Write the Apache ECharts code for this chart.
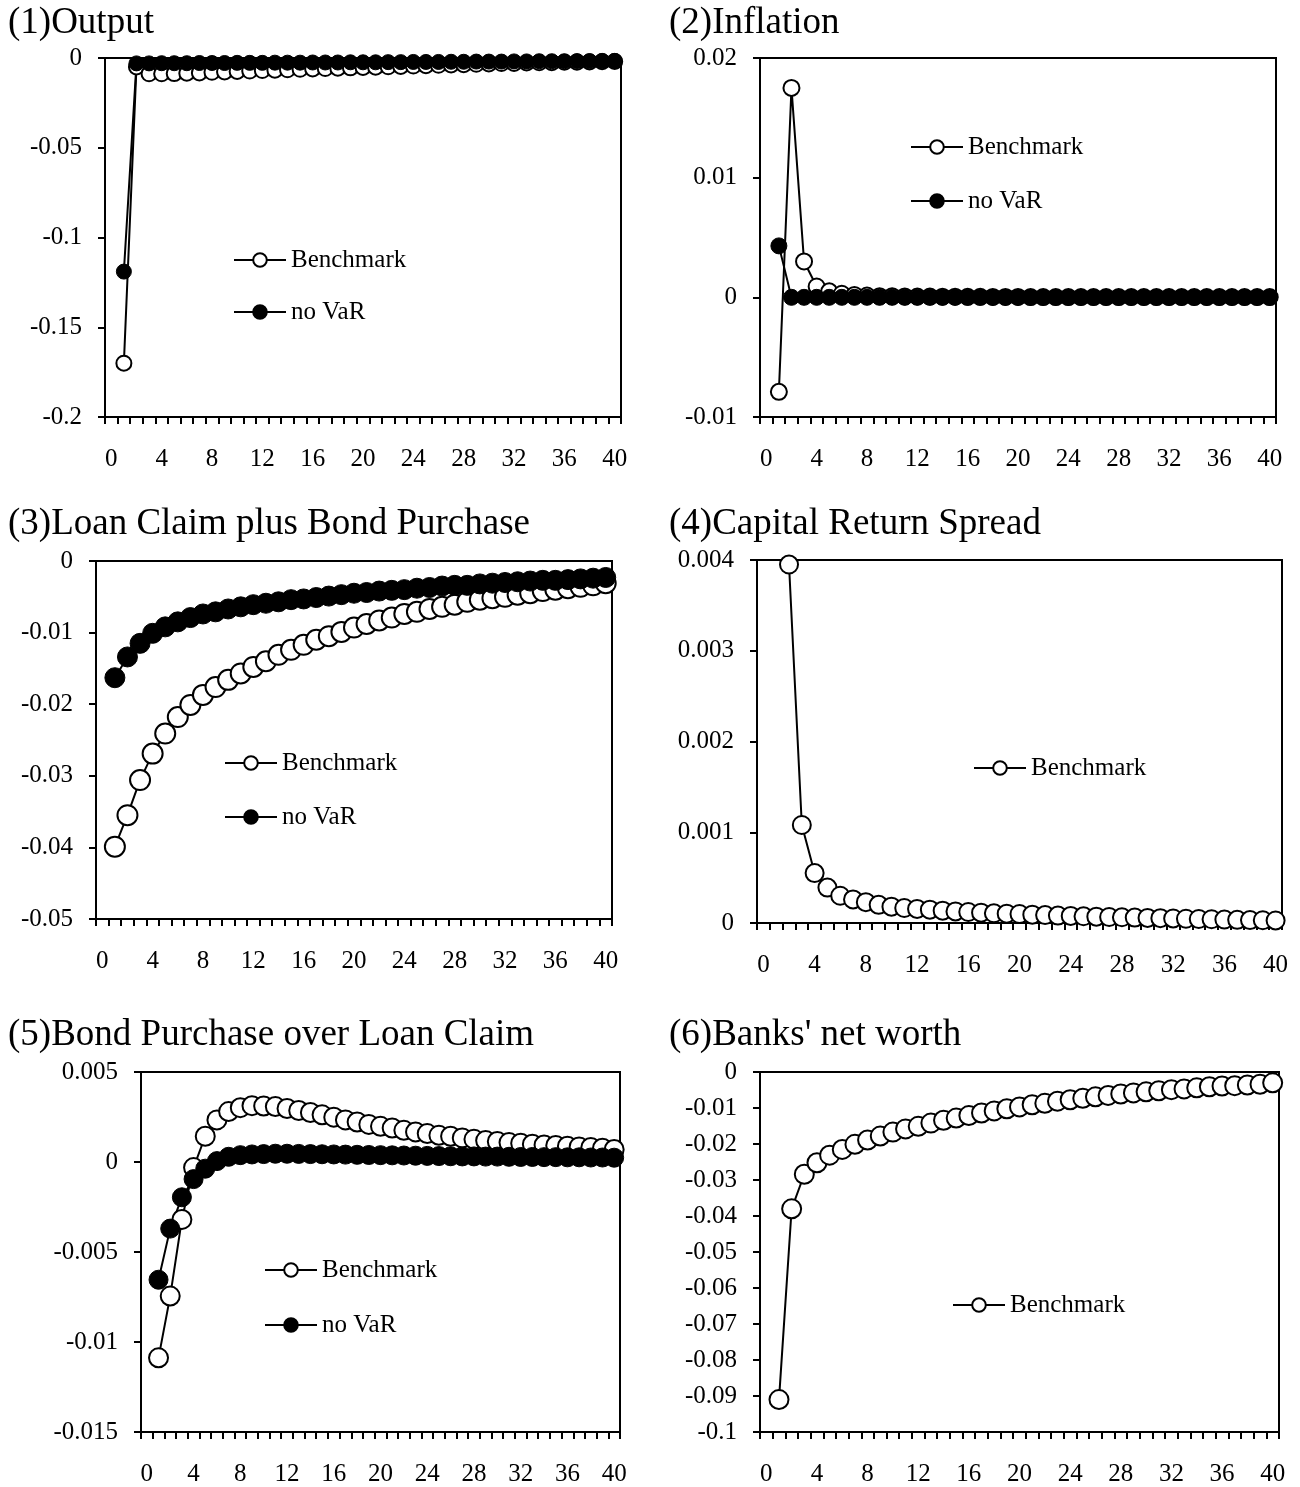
<!DOCTYPE html>
<html>
<head>
<meta charset="utf-8">
<title>Impulse responses</title>
<script src="https://cdn.jsdelivr.net/npm/echarts@6/dist/echarts.min.js"></script>
<style>
  html, body { margin: 0; padding: 0; background: #fff; }
  #chart { width: 1300px; height: 1487px; }
</style>
</head>
<body>
<div id="chart"></div>
<script>
// Horizon (quarters after the shock); category 0 is left empty.
const periods = ['0','1','2','3','4','5','6','7','8','9','10','11','12','13','14','15','16','17','18','19','20',
  '21','22','23','24','25','26','27','28','29','30','31','32','33','34','35','36','37','38','39','40'];

// Responses for periods 1..40
const outputBenchmark = [-0.170, -0.0050, -0.0088, -0.0088, -0.0087, -0.0085, -0.0083, -0.0080, -0.0078, -0.0075,
  -0.0073, -0.0070, -0.0068, -0.0066, -0.0063, -0.0061, -0.0059, -0.0057, -0.0055, -0.0053,
  -0.0051, -0.0049, -0.0047, -0.0045, -0.0043, -0.0041, -0.0039, -0.0037, -0.0035, -0.0033,
  -0.0031, -0.0030, -0.0028, -0.0027, -0.0026, -0.0024, -0.0023, -0.0022, -0.0021, -0.0020];
const outputNoVaR = [-0.119, -0.0030, -0.0030, -0.0029, -0.0029, -0.0029, -0.0028, -0.0028, -0.0028, -0.0027,
  -0.0027, -0.0027, -0.0026, -0.0026, -0.0026, -0.0025, -0.0025, -0.0025, -0.0024, -0.0024,
  -0.0024, -0.0023, -0.0023, -0.0022, -0.0022, -0.0022, -0.0021, -0.0021, -0.0020, -0.0020,
  -0.0020, -0.0019, -0.0019, -0.0018, -0.0018, -0.0018, -0.0017, -0.0017, -0.0016, -0.0016];

const inflationBenchmark = [-0.0079, 0.0175, 0.0030, 0.0009, 0.0005, 0.0003, 0.0002, 0.00015, 0.0001, 0.0001,
  0.00008, 0.00007, 0.00006, 0.00005, 0.00005, 0.00004, 0.00004, 0.00003, 0.00003, 0.00003,
  0.00002, 0.00002, 0.00002, 0.00002, 0.00002, 0.00002, 0.00002, 0.00002, 0.00002, 0.00002,
  0.00002, 0.00002, 0.00002, 0.00002, 0.00002, 0.00002, 0.00002, 0.00002, 0.00002, 0.00002];
const inflationNoVaR = [0.0043, 0.0000, 0.0000, 0.0000, 0.0000, 0.0000, 0.0000, 0.0000, 0.0000, 0.0000,
  0.0000, 0.0000, 0.0000, 0.0000, 0.0000, 0.0000, 0.0000, 0.0000, 0.0000, 0.0000,
  0.0000, 0.0000, 0.0000, 0.0000, 0.0000, 0.0000, 0.0000, 0.0000, 0.0000, 0.0000,
  0.0000, 0.0000, 0.0000, 0.0000, 0.0000, 0.0000, 0.0000, 0.0000, 0.0000, 0.0000];

const loanBenchmark = [-0.0399, -0.0355, -0.0306, -0.0269, -0.0241, -0.0218, -0.0201, -0.0187, -0.0176, -0.0166,
  -0.0157, -0.0148, -0.0140, -0.0131, -0.0124, -0.0117, -0.0110, -0.0105, -0.0099, -0.0093,
  -0.0088, -0.0083, -0.0079, -0.0074, -0.0071, -0.0067, -0.0064, -0.0061, -0.0057, -0.0054,
  -0.0052, -0.0050, -0.0047, -0.0045, -0.0042, -0.0040, -0.0038, -0.0036, -0.0034, -0.0031];
const loanNoVaR = [-0.0163, -0.0134, -0.0115, -0.0101, -0.0092, -0.0085, -0.0079, -0.0074, -0.0071, -0.0067,
  -0.0064, -0.0061, -0.0059, -0.0057, -0.0054, -0.0053, -0.0051, -0.0049, -0.0047, -0.0045,
  -0.0044, -0.0042, -0.0041, -0.0040, -0.0038, -0.0037, -0.0035, -0.0034, -0.0034, -0.0032,
  -0.0031, -0.0030, -0.0029, -0.0028, -0.0027, -0.0027, -0.0026, -0.0025, -0.0024, -0.0023];

const spreadBenchmark = [null, 0.00395, 0.00108, 0.00055, 0.00039, 0.00030, 0.00026, 0.00023, 0.00020, 0.00018,
  0.000165, 0.000155, 0.000147, 0.000136, 0.000128, 0.000121, 0.000114, 0.000107, 0.000103, 0.000099,
  0.000092, 0.000087, 0.000082, 0.000078, 0.000074, 0.000070, 0.000066, 0.000063, 0.000060, 0.000056,
  0.000053, 0.000050, 0.000047, 0.000044, 0.000041, 0.000038, 0.000035, 0.000032, 0.000030, 0.000028];

const bondBenchmark = [-0.01088, -0.00745, -0.00319, -0.00031, 0.00143, 0.00234, 0.00280, 0.00302, 0.00313, 0.00311,
  0.00308, 0.00297, 0.00286, 0.00275, 0.00262, 0.00249, 0.00234, 0.00222, 0.00209, 0.00198,
  0.00189, 0.00176, 0.00167, 0.00158, 0.00148, 0.00143, 0.00134, 0.00126, 0.00119, 0.00114,
  0.00108, 0.00104, 0.00099, 0.00095, 0.00092, 0.00088, 0.00084, 0.00081, 0.00077, 0.00070];
const bondNoVaR = [-0.00654, -0.00370, -0.00196, -0.00095, -0.00037, 0.00005, 0.00029, 0.00038, 0.00042, 0.00044,
  0.00046, 0.00046, 0.00045, 0.00044, 0.00043, 0.00042, 0.00041, 0.00040, 0.00039, 0.00038,
  0.00037, 0.00036, 0.00035, 0.00034, 0.00033, 0.00032, 0.00031, 0.00031, 0.00030, 0.00030,
  0.00029, 0.00028, 0.00028, 0.00027, 0.00027, 0.00026, 0.00026, 0.00025, 0.00025, 0.00024];

const netWorthBenchmark = [-0.0910, -0.0380, -0.0284, -0.0252, -0.0231, -0.0215, -0.0201, -0.0189, -0.0178, -0.0167,
  -0.0158, -0.0151, -0.0142, -0.0134, -0.0128, -0.0121, -0.0114, -0.0108, -0.0102, -0.0097,
  -0.0091, -0.0087, -0.0081, -0.0077, -0.0073, -0.0069, -0.0065, -0.0061, -0.0058, -0.0055,
  -0.0052, -0.0049, -0.0047, -0.0044, -0.0041, -0.0039, -0.0038, -0.0036, -0.0034, -0.0030];

// Panel titles and y-axis ranges
const panelTitles = ['(1)Output', '(2)Inflation', '(3)Loan Claim plus Bond Purchase',
  '(4)Capital Return Spread', '(5)Bond Purchase over Loan Claim', "(6)Banks' net worth"];
const yMins  = [-0.2, -0.01, -0.05, 0,     -0.015, -0.1];
const yMaxs  = [0,     0.02,  0,    0.004,  0.005,  0];
const ySteps = [0.05,  0.01,  0.01, 0.001,  0.005,  0.01];

const panelSeries = [
  [['Benchmark', outputBenchmark], ['no VaR', outputNoVaR]],
  [['Benchmark', inflationBenchmark], ['no VaR', inflationNoVaR]],
  [['Benchmark', loanBenchmark], ['no VaR', loanNoVaR]],
  [['Benchmark', spreadBenchmark]],
  [['Benchmark', bondBenchmark], ['no VaR', bondNoVaR]],
  [['Benchmark', netWorthBenchmark]]
];

// Layout of the six panels (pixels)
const layout = [
  { grid: [105, 58, 516, 359],   title: [8, 5],      legend: [233, 247, 26], mark: 15 },
  { grid: [760, 58, 516, 359],   title: [669, 5],    legend: [910, 134, 28], mark: 16 },
  { grid: [96, 561, 516, 358],   title: [8, 506],    legend: [224, 750, 28], mark: 20 },
  { grid: [757, 560, 525, 363],  title: [669, 506],  legend: [973, 755, 28], mark: 18 },
  { grid: [141, 1072, 479, 364], title: [8, 1017],   legend: [264, 1257, 29], mark: 19 },
  { grid: [760, 1072, 519, 364], title: [669, 1017], legend: [952, 1292, 28], mark: 19 }
];

const FONT = 'Liberation Serif';
const INK = '#000';

const option = {
  animation: false,
  backgroundColor: '#fff',
  title: [], grid: [], xAxis: [], yAxis: [], legend: [], series: []
};

layout.forEach((L, i) => {
  option.title.push({
    text: panelTitles[i], left: L.title[0], top: L.title[1], padding: 0,
    textStyle: { fontFamily: FONT, fontSize: 37, fontWeight: 'normal', color: INK }
  });
  option.grid.push({
    left: L.grid[0], top: L.grid[1], width: L.grid[2], height: L.grid[3],
    show: true, borderColor: INK, borderWidth: 2, backgroundColor: 'transparent'
  });
  option.xAxis.push({
    type: 'category', gridIndex: i, data: periods, boundaryGap: true,
    axisLine: { onZero: false, lineStyle: { color: INK, width: 2 } },
    axisTick: { show: true, interval: 0, alignWithLabel: false, length: 7, lineStyle: { color: INK, width: 2 } },
    axisLabel: { interval: 3, margin: 30, fontFamily: FONT, fontSize: 25, color: INK },
    splitLine: { show: false }
  });
  option.yAxis.push({
    type: 'value', gridIndex: i, min: yMins[i], max: yMaxs[i], interval: ySteps[i],
    axisLine: { show: true, onZero: false, lineStyle: { color: INK, width: 2 } },
    axisTick: { show: true, length: 7, lineStyle: { color: INK, width: 2 } },
    axisLabel: { margin: 23, fontFamily: FONT, fontSize: 25, color: INK },
    splitLine: { show: false }
  });
  const names = panelSeries[i].map(s => s[0]);
  option.legend.push({
    data: names, orient: 'vertical', left: L.legend[0], top: L.legend[1],
    itemGap: L.legend[2], itemWidth: 52, itemHeight: 17, padding: 0,
    selectedMode: false,
    textStyle: { fontFamily: FONT, fontSize: 25, color: INK, lineHeight: 26 }
  });
  panelSeries[i].forEach(([name, values]) => {
    const hollow = name === 'Benchmark';
    option.series.push({
      type: 'line', name: name, xAxisIndex: i, yAxisIndex: i,
      data: [null].concat(values),
      symbol: 'circle', symbolSize: L.mark, showSymbol: true, showAllSymbol: true,
      lineStyle: { color: INK, width: 2 },
      itemStyle: hollow ? { color: '#fff', borderColor: INK, borderWidth: 2 }
                        : { color: INK, borderColor: INK, borderWidth: 1 },
      emphasis: { disabled: true }
    });
  });
});

const chart = echarts.init(document.getElementById('chart'), null, { renderer: 'canvas' });
chart.setOption(option);
</script>
</body>
</html>
